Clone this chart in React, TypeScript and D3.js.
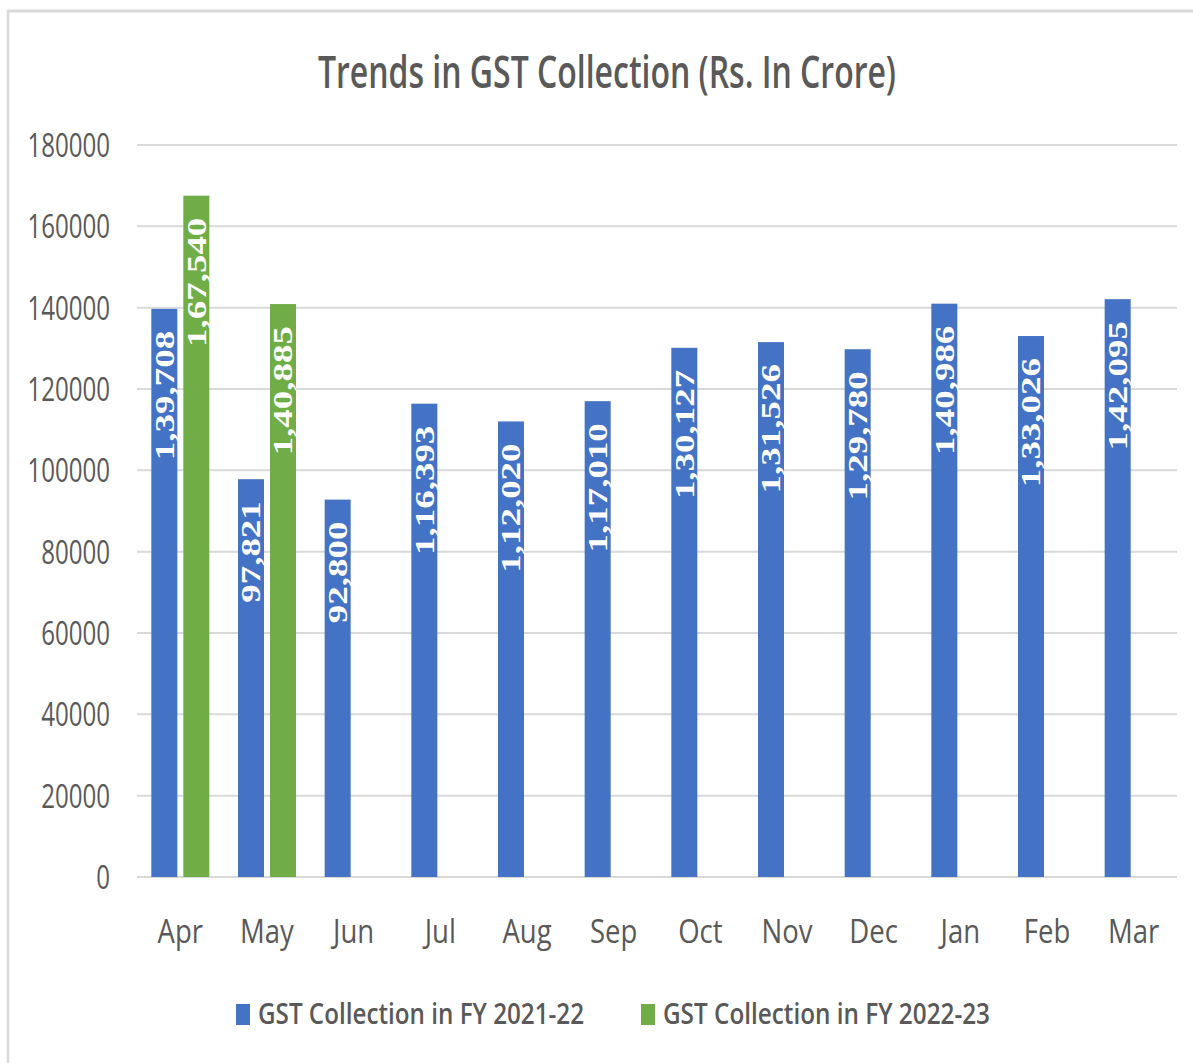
import React from "react";
import * as d3 from "d3";

const months = ["Apr", "May", "Jun", "Jul", "Aug", "Sep", "Oct", "Nov", "Dec", "Jan", "Feb", "Mar"];
const fy2122 = [139708, 97821, 92800, 116393, 112020, 117010, 130127, 131526, 129780, 140986, 133026, 142095];
const fy2223: (number | null)[] = [167540, 140885, null, null, null, null, null, null, null, null, null, null];
const seriesNames = ["GST Collection in FY 2021-22", "GST Collection in FY 2022-23"];
const seriesColors = ["#4472C4", "#70AD47"];
const yTicks = [0, 20000, 40000, 60000, 80000, 100000, 120000, 140000, 160000, 180000];
const title = "Trends in GST Collection (Rs. In Crore)";

const W = 1193;
const H = 1063;
const plotLeft = 137;
const plotRight = 1177;
const plotTop = 145;
const plotBottom = 877;

const fmtIN = (v: number) => {
  const s = String(Math.round(v));
  if (s.length <= 3) return s;
  const last3 = s.slice(-3);
  let rest = s.slice(0, -3);
  const parts: string[] = [];
  while (rest.length > 2) {
    parts.unshift(rest.slice(-2));
    rest = rest.slice(0, -2);
  }
  if (rest.length) parts.unshift(rest);
  return parts.join(",") + "," + last3;
};

export default function App() {
  const x0 = d3.scaleBand<string>().domain(months).range([plotLeft, plotRight]).paddingInner(0).paddingOuter(0);
  const step = x0.step();
  const groupW = 58;
  const off = (step - groupW) / 2;
  const x1 = d3
    .scaleBand<string>()
    .domain(["a", "b"])
    .range([off, off + groupW])
    .paddingInner(0.1875)
    .paddingOuter(0);
  const y = d3.scaleLinear().domain([0, 180000]).range([plotBottom, plotTop]);
  const bw = x1.bandwidth();

  const series = [fy2122, fy2223];
  const keys = ["a", "b"];
  const sans = "'Open Sans', 'DejaVu Sans', sans-serif";
  const serif = "'Liberation Serif', 'Times New Roman', serif";
  const textCol = "#595959";
  const lblFont = 28;

  return (
    <svg width={W} height={H} style={{ position: "absolute", left: 0, top: 0, background: "#fff" }}>
      <rect x={0} y={0} width={W} height={H} fill="#fff" />
      <line x1={8} y1={10} x2={8} y2={H} stroke="#D9D9D9" strokeWidth={2.5} />
      <line x1={8} y1={11} x2={W} y2={11} stroke="#D9D9D9" strokeWidth={3} />

      <text
        x={607}
        y={88}
        textAnchor="middle"
        fontFamily={sans}
        fontSize={46}
        fontWeight={600}
        fill={textCol}
        textLength={578}
        lengthAdjust="spacingAndGlyphs"
      >
        {title}
      </text>

      {yTicks.map((t) => (
        <g key={t}>
          <line x1={plotLeft} x2={plotRight} y1={y(t)} y2={y(t)} stroke="#D9D9D9" strokeWidth={2} />
          <text
            transform={`translate(110,${y(t) + 12}) scale(0.73,1)`}
            textAnchor="end"
            fontFamily={sans}
            fontSize={33}
            fill={textCol}
          >
            {t}
          </text>
        </g>
      ))}

      {series.map((vals, si) =>
        vals.map((v, i) => {
          if (v == null) return null;
          const bx = (x0(months[i]) as number) + (x1(keys[si]) as number);
          const top = y(v);
          const cx = bx + bw / 2;
          return (
            <g key={`${si}-${i}`}>
              <rect x={bx} y={top} width={bw} height={plotBottom - top} fill={seriesColors[si]} />
              <text
                transform={`translate(${cx + 0.338 * lblFont},${top + 22}) rotate(-90) scale(1.32,1)`}
                textAnchor="end"
                fontFamily={serif}
                fontWeight="bold"
                fontSize={lblFont}
                fill="#fff"
              >
                {fmtIN(v)}
              </text>
            </g>
          );
        })
      )}

      {months.map((m) => (
        <text
          key={m}
          transform={`translate(${(x0(m) as number) + step / 2},943) scale(0.86,1)`}
          textAnchor="middle"
          fontFamily={sans}
          fontSize={32}
          fill={textCol}
        >
          {m}
        </text>
      ))}

      {seriesNames.map((n, i) => {
        const sx = i === 0 ? 236 : 641;
        const tx = i === 0 ? 258 : 663;
        return (
          <g key={n}>
            <rect x={sx} y={1004} width={14} height={21} fill={seriesColors[i]} />
            <text
              x={tx}
              y={1024}
              fontFamily={sans}
              fontSize={29}
              fontWeight={600}
              fill={textCol}
              textLength={i === 0 ? 326 : 327}
              lengthAdjust="spacingAndGlyphs"
            >
              {n}
            </text>
          </g>
        );
      })}
    </svg>
  );
}
